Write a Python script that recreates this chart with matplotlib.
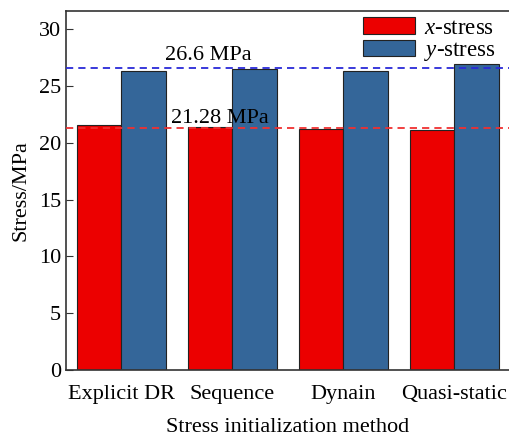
import numpy as np
import matplotlib.pyplot as plt

plt.rcParams['font.family'] = ['Liberation Serif', 'DejaVu Serif']
plt.rcParams['mathtext.fontset'] = 'custom'
plt.rcParams['mathtext.it'] = 'Liberation Serif:italic'
plt.rcParams['mathtext.rm'] = 'Liberation Serif'

# stress results for each initialization method
methods = ['Explicit DR', 'Sequence', 'Dynain', 'Quasi-static']
x_stress = [21.55, 21.37, 21.22, 21.1]
y_stress = [26.3, 26.5, 26.3, 26.9]
x_mean = 21.28
y_mean = 26.6

red = '#ec0000'
blue = '#346699'

fig = plt.figure(figsize=(5.1, 4.38), dpi=100)
ax = fig.add_axes([0.1294, 0.1553, 0.8706, 0.8196])

pos = np.arange(len(methods))
w = 0.4
ax.bar(pos - w / 2, x_stress, w, color=red, edgecolor='#222222', linewidth=0.8,
       label='$x$-stress', zorder=2)
ax.bar(pos + w / 2, y_stress, w, color=blue, edgecolor='#222222', linewidth=0.8,
       label='$y$-stress', zorder=2)

# reference lines for the mean values
ax.axhline(y_mean, color='#2a2ad8', ls=(0, (4, 2.8)), lw=1.3, zorder=3)
ax.axhline(x_mean, color='#f03030', ls=(0, (4, 2.8)), lw=1.3, zorder=3)
ax.text(0.78, 27.26, '%.1f MPa' % y_mean, ha='center', va='baseline', fontsize=16)
ax.text(0.89, 21.72, '%.2f MPa' % x_mean, ha='center', va='baseline', fontsize=16)

ax.set_xlim(-0.5, 3.5)
ax.set_ylim(0, 31.6)
ax.set_yticks(range(0, 31, 5))
ax.set_xticks(pos)
ax.set_xticklabels(methods, fontsize=16)
ax.tick_params(axis='y', direction='in', length=5, labelsize=16, color='#333333')
ax.tick_params(axis='x', length=0, pad=11)
for s in ax.spines.values():
    s.set_color('#333333')
    s.set_linewidth(1.2)

ax.set_xlabel('Stress initialization method', fontsize=16, labelpad=10)
ax.set_ylabel('Stress/MPa', fontsize=16, labelpad=6)

ax.legend(loc='upper right', bbox_to_anchor=(1.003, 1.027), frameon=False, fontsize=16.5,
          handlelength=2.25, handleheight=0.72, handletextpad=0.38, labelspacing=0.06,
          borderaxespad=0.3)

fig.savefig('out.png', dpi=100)
